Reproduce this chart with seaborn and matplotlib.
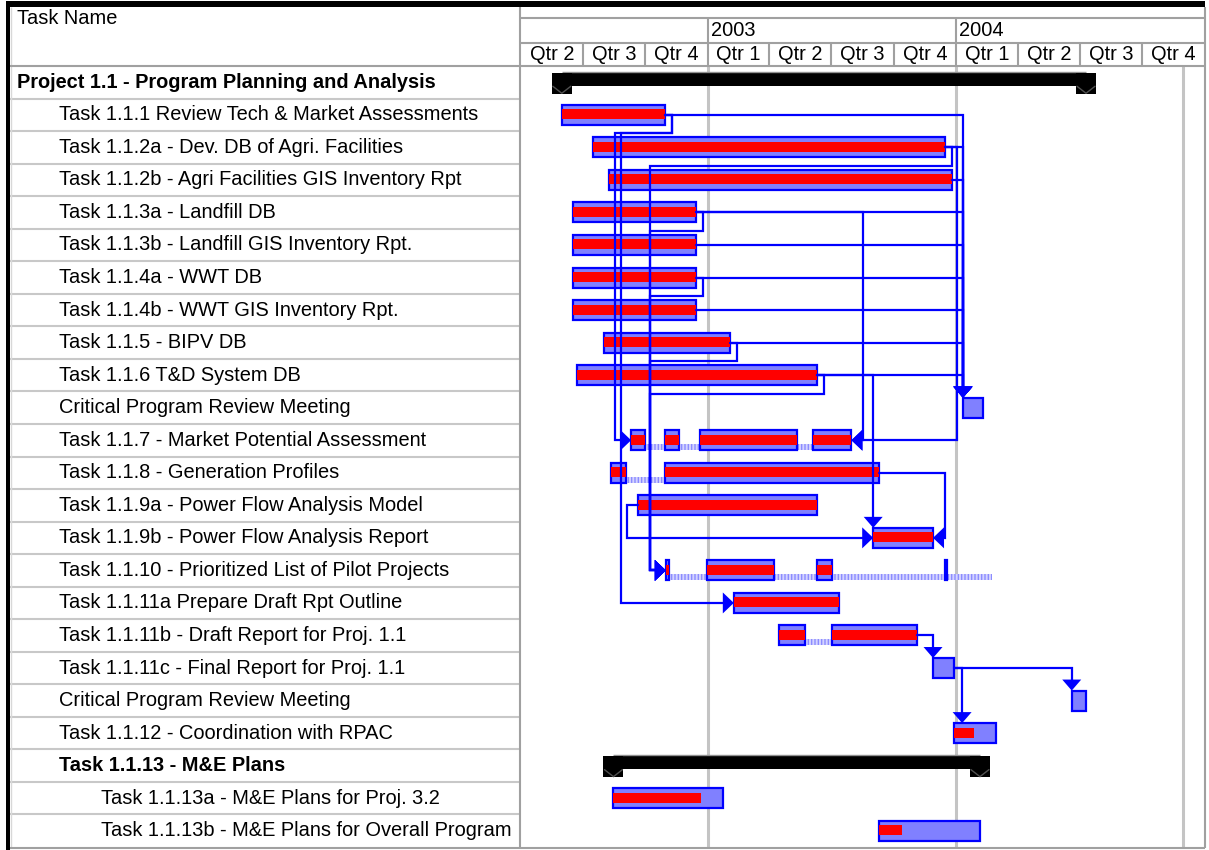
import numpy as np
import pandas as pd
import matplotlib.pyplot as plt
import matplotlib.dates as mdates
from matplotlib.patches import Polygon, Rectangle
import seaborn as sns

sns.set_theme(style="white")
plt.rcParams['font.family'] = ['Liberation Sans', 'DejaVu Sans']
plt.rcParams['text.color'] = 'black'

task_names = [
    "Project 1.1 - Program Planning and Analysis",
    "Task 1.1.1 Review Tech & Market Assessments",
    "Task 1.1.2a - Dev. DB of Agri. Facilities",
    "Task 1.1.2b - Agri Facilities GIS Inventory Rpt",
    "Task 1.1.3a - Landfill DB",
    "Task 1.1.3b - Landfill GIS Inventory Rpt.",
    "Task 1.1.4a - WWT DB",
    "Task 1.1.4b - WWT GIS Inventory Rpt.",
    "Task 1.1.5 - BIPV DB",
    "Task 1.1.6 T&D System DB",
    "Critical Program Review Meeting",
    "Task 1.1.7 - Market Potential Assessment",
    "Task 1.1.8 - Generation Profiles",
    "Task 1.1.9a - Power Flow Analysis Model",
    "Task 1.1.9b - Power Flow Analysis Report",
    "Task 1.1.10 - Prioritized List of Pilot Projects",
    "Task 1.1.11a Prepare Draft Rpt Outline",
    "Task 1.1.11b - Draft Report for Proj. 1.1",
    "Task 1.1.11c - Final Report for Proj. 1.1",
    "Critical Program Review Meeting",
    "Task 1.1.12 - Coordination with RPAC",
    "Task 1.1.13 - M&E Plans",
    "Task 1.1.13a - M&E Plans for Proj. 3.2",
    "Task 1.1.13b - M&E Plans for Overall Program",
]
outline_level = [0] + [1] * 21 + [2, 2]

# work segments per task (split tasks have several); summaries have none
segments = [
    [],
    [("2002-05-31", "2002-10-30")],
    [("2002-07-16", "2003-12-16")],
    [("2002-08-08", "2003-12-26")],
    [("2002-06-16", "2002-12-14")],
    [("2002-06-16", "2002-12-14")],
    [("2002-06-16", "2002-12-14")],
    [("2002-06-16", "2002-12-14")],
    [("2002-08-01", "2003-02-02")],
    [("2002-06-22", "2003-06-10")],
    [("2004-01-11", "2004-02-09")],
    [("2002-09-10", "2002-10-01"), ("2002-10-30", "2002-11-19"),
     ("2002-12-21", "2003-05-12"), ("2003-06-04", "2003-07-31")],
    [("2002-08-11", "2002-09-03"), ("2002-10-30", "2003-09-09")],
    [("2002-09-20", "2003-06-10")],
    [("2003-09-01", "2003-11-28")],
    [("2002-10-31", "2002-11-04"), ("2002-12-31", "2003-04-08"),
     ("2003-06-10", "2003-07-03"), ("2003-12-16", "2003-12-18"),
     ("2004-02-22", "2004-02-22")],
    [("2003-02-08", "2003-07-12")],
    [("2003-04-15", "2003-05-24"), ("2003-07-02", "2003-11-05")],
    [("2003-11-28", "2003-12-29")],
    [("2004-06-19", "2004-07-10")],
    [("2003-12-29", "2004-02-28")],
    [],
    [("2002-08-15", "2003-01-23")],
    [("2003-09-10", "2004-02-05")],
]
pct_complete = [0, 1, 1, 1, 1, 1, 1, 1, 1, 1, 0, 1, 1, 1, 1, 0.984,
                1, 1, 0, 0, 0.49, 0, 0.80, 0.23]

# dependencies: predecessor row, successor row, link style
link_from = [1, 2, 3, 4, 5, 6, 7, 8, 9, 1, 1, 2, 4, 6, 8, 9, 2, 4, 9, 12, 13, 17, 18, 18]
link_to = [10, 10, 10, 10, 10, 10, 10, 10, 10, 11, 16, 15, 15, 15, 15, 15, 11, 11, 14, 14, 14, 18, 19, 20]
link_type = ["drop"] * 9 + ["step"] * 7 + ["ff", "ff", "drop", "ff", "ss", "drop", "drop", "drop"]

timeline_start, timeline_end = "2002-04-01", "2005-01-01"
gridline_dates = ["2003-01-01", "2004-01-01", "2004-11-29"]

# ---- layout ----
W, H = 1209, 850
FS = 14.45
BLUE, FILL, RED = "#0000ff", "#8080ff", "#ff0000"
n = len(task_names)

fig = plt.figure(figsize=(W / 100, H / 100), dpi=100)


def px_axes(x0, y0, x1, y1, **kw):
    return fig.add_axes([x0 / W, 1 - y1 / H, (x1 - x0) / W, (y1 - y0) / H], **kw)


def dnum(s):
    return mdates.date2num(pd.Timestamp(s))


seg_num = [[(dnum(a), dnum(b)) for a, b in s] for s in segments]
is_summary = [i + 1 < n and outline_level[i + 1] > outline_level[i] for i in range(n)]
span = []
for i in range(n):
    if is_summary[i]:
        kids = []
        j = i + 1
        while j < n and outline_level[j] > outline_level[i]:
            kids += seg_num[j]
            j += 1
        span.append((min(k[0] for k in kids), max(k[1] for k in kids)))
    else:
        span.append((seg_num[i][0][0], seg_num[i][-1][1]))

# gantt body
ax = px_axes(521, 66, 1205, 847)
x_lo, x_hi = dnum(timeline_start), dnum(timeline_end)
ax.set_xlim(x_lo, x_hi)
ax.set_ylim(n, 0)
ax.axis("off")
DX = (x_hi - x_lo) / 684.0   # days per pixel
DY = n / 781.0               # rows per pixel

for g in gridline_dates:
    ax.axvline(dnum(g), color="#c4c4c4", lw=2.2, zorder=1)

for i in range(n):
    yc = i + 0.5
    s, f = span[i]
    if is_summary[i]:
        ax.barh(yc - 3 * DY, f - s, left=s, height=13 * DY, color="black", lw=0, zorder=3)
        ax.hlines(yc - 10.5 * DY, s, f, color="#909090", lw=1, zorder=3)
        for e in (s, f):
            ax.add_patch(Rectangle((e - 10 * DX, yc - 9.5 * DY), 20 * DX, 21 * DY,
                                   color="black", lw=0, zorder=3))
            ax.plot([e - 9 * DX, e, e + 9 * DX], [yc + 4 * DY, yc + 11 * DY, yc + 4 * DY],
                    color="#505050", lw=1, zorder=4)
        continue
    if len(seg_num[i]) > 1:
        ax.barh(yc + 7 * DY, f - s, left=s, height=6 * DY, color="#d4d4ff",
                hatch="|||||", edgecolor="#8c8cff", lw=0, zorder=2)
    total = sum(b - a for a, b in seg_num[i])
    remaining = pct_complete[i] * total
    for a, b in seg_num[i]:
        if b - a <= 0:
            continue
        ax.barh(yc, b - a, left=a, height=20 * DY, color=FILL, edgecolor=BLUE,
                lw=1.6, zorder=3)
        w = min(remaining, b - a)
        if w > 0:
            ax.barh(yc - 0.5 * DY, w, left=a, height=10 * DY, color=RED, lw=0, zorder=4)
        remaining -= w


def arrow(tip_x, tip_y, direction):
    L, Hh = 11, 10.5
    if direction == "down":
        pts = [(tip_x, tip_y), (tip_x - 9.5 * DX, tip_y - L * DY), (tip_x + 9.5 * DX, tip_y - L * DY)]
    elif direction == "right":
        pts = [(tip_x, tip_y), (tip_x - L * DX, tip_y - Hh * DY), (tip_x - L * DX, tip_y + Hh * DY)]
    else:
        pts = [(tip_x, tip_y), (tip_x + L * DX, tip_y - Hh * DY), (tip_x + L * DX, tip_y + Hh * DY)]
    ax.add_patch(Polygon(pts, closed=True, color=BLUE, lw=0, zorder=6))


# shared corridor for step links leaving the same task
step_corridor = {}
for p, q, t in zip(link_from, link_to, link_type):
    if t == "step":
        v = span[q][0] - 16 * DX
        step_corridor[p] = min(step_corridor.get(p, v), v)
lane_used = {}

for p, q, t in zip(link_from, link_to, link_type):
    yp, yq = p + 0.5, q + 0.5
    ps, pf = span[p]
    qs, qf = span[q]
    if t == "drop":
        via = max(qs, pf + 8 * DX)
        top = yq - 10 * DY
        xs, ys = [pf, via, via], [yp, yp, top - 10 * DY]
        arrow(via, top, "down")
    elif t == "step":
        lane = lane_used.get(p, 0)
        lane_used[p] = lane + 1
        via = step_corridor[p] + lane * 6 * DX
        jog = pf + 7 * DX
        ystep = p + 1.07
        xs = [pf, jog, jog, via, via, qs - 10 * DX]
        ys = [yp, yp, ystep, ystep, yq, yq]
        arrow(qs, yq, "right")
    elif t == "ff":
        via = max(pf, qf) + 12 * DX
        xs, ys = [pf, via, via, qf + 10 * DX], [yp, yp, yq, yq]
        arrow(qf, yq, "left")
    else:  # start-to-start
        via = min(ps, qs) - 11 * DX
        xs, ys = [ps, via, via, qs - 10 * DX], [yp, yp, yq, yq]
        arrow(qs, yq, "right")
    ax.plot(xs, ys, color=BLUE, lw=1.6, zorder=5, solid_joinstyle="miter")

# timescale header
axh = px_axes(521, 7, 1205, 66, sharex=ax)
axh.set_ylim(66, 7)
axh.axis("off")
quarters = pd.date_range(timeline_start, timeline_end, freq="QS")
qnum = [dnum(qq) for qq in quarters]
hdr = "#a0a0a0"
axh.hlines([18, 43], x_lo, x_hi, color=hdr, lw=1.5)
axh.vlines(qnum[1:-1], 43, 66, color=hdr, lw=1.5)
for a, b, qq in zip(qnum[:-1], qnum[1:], quarters[:-1]):
    axh.text((a + b) / 2, 55, f"Qtr {qq.quarter}", ha="center", va="center", fontsize=FS)
for a, qq in zip(qnum[:-1], quarters[:-1]):
    if qq.quarter == 1:
        axh.vlines(a, 18, 43, color=hdr, lw=1.5)
        axh.text(a + 3 * DX, 31, str(qq.year), ha="left", va="center", fontsize=FS)

# task name table
axt = px_axes(10, 66, 519, 847)
axt.set_xlim(0, 509)
axt.set_ylim(n, 0)
axt.axis("off")
axt.hlines(np.arange(1, n), 0, 509, color="#c8c8c8", lw=1.5)
for i, (name, lvl) in enumerate(zip(task_names, outline_level)):
    axt.text(7 + 42 * lvl, i + 0.5, name, ha="left", va="center", fontsize=FS,
             fontweight="bold" if is_summary[i] else "normal")

# outer frame
axf = fig.add_axes([0, 0, 1, 1], zorder=10)
axf.set_xlim(0, W)
axf.set_ylim(H, 0)
axf.axis("off")
axf.patch.set_alpha(0)
axf.add_patch(Rectangle((6, 1), 1199, 6, color="black", lw=0))
axf.add_patch(Rectangle((6, 1), 4, 849, color="black", lw=0))
axf.vlines([519.5], 7, 848, color="#a0a0a0", lw=1.5)
axf.vlines([1205], 7, 848, color="#a0a0a0", lw=1.5)
axf.vlines([11], 7, 848, color="#d8d8d8", lw=1)
axf.hlines([66, 847.5], 10, 1205, color="#a0a0a0", lw=1.5)
axf.text(17, 9, "Task Name", ha="left", va="top", fontsize=FS)

fig.savefig("out.png", dpi=100)
